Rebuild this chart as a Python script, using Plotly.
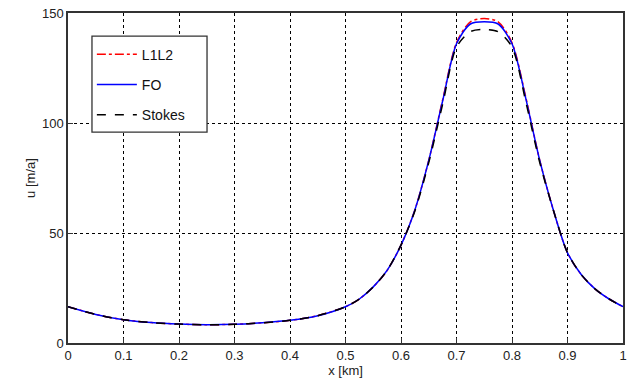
import plotly.graph_objects as go

x_km = [0, 0.05, 0.1, 0.15, 0.2, 0.25, 0.3, 0.35, 0.4, 0.45, 0.5, 0.525, 0.55, 0.575,
        0.6, 0.625, 0.65, 0.675, 0.7, 0.725, 0.75, 0.775, 0.8, 0.825, 0.85, 0.875,
        0.9, 0.925, 0.95, 0.975, 1.0]

u_fo = [16.5, 13.0, 10.6, 9.3, 8.6, 8.3, 8.5, 9.2, 10.3, 12.4, 16.5, 20.0, 25.5, 33.0,
        44.5, 60.5, 83.0, 110.0, 136.0, 145.0, 146.0, 145.0, 136.0, 111.0, 83.0, 60.0,
        41.0, 31.0, 24.5, 20.0, 16.5]

u_l1l2 = [16.5, 13.0, 10.6, 9.3, 8.6, 8.3, 8.5, 9.2, 10.3, 12.4, 16.5, 20.0, 25.5, 33.0,
          44.5, 60.5, 83.0, 110.5, 136.5, 146.0, 147.5, 146.0, 136.5, 111.5, 83.0, 60.0,
          41.0, 31.0, 24.5, 20.0, 16.5]

u_stokes = [16.5, 13.0, 10.6, 9.3, 8.6, 8.3, 8.5, 9.2, 10.3, 12.4, 16.5, 20.0, 25.5, 33.0,
            44.5, 60.0, 82.0, 108.5, 134.5, 141.5, 142.5, 141.5, 134.5, 109.5, 82.0, 60.0,
            41.0, 31.0, 24.5, 20.0, 16.5]

x_ticks = [0, 0.1, 0.2, 0.3, 0.4, 0.5, 0.6, 0.7, 0.8, 0.9, 1]
x_tick_text = ["0", "0.1", "0.2", "0.3", "0.4", "0.5", "0.6", "0.7", "0.8", "0.9", "1"]
y_ticks = [0, 50, 100, 150]

font_family = "Liberation Sans, Arial, Helvetica, sans-serif"

fig = go.Figure()
fig.add_trace(go.Scatter(x=x_km, y=u_l1l2, name="L1L2", mode="lines", legendgroup="a",
                         line=dict(color="#ff0000", width=1.5, dash="dashdot", shape="spline", smoothing=0.8)))
fig.add_trace(go.Scatter(x=x_km, y=u_fo, name="FO", mode="lines", legendgroup="b",
                         line=dict(color="#0000ff", width=1.5, shape="spline", smoothing=0.8)))
fig.add_trace(go.Scatter(x=x_km, y=u_stokes, name="Stokes", mode="lines", legendgroup="c",
                         line=dict(color="#000000", width=1.5, dash="dash", shape="spline", smoothing=0.8)))

axis_common = dict(
    showline=True, linecolor="#333333", linewidth=1.5, mirror=True,
    ticks="inside", ticklen=5, tickcolor="#333333", automargin=False,
    showgrid=True, gridcolor="#000000", gridwidth=1, griddash="dot",
    zeroline=False, tickfont=dict(size=13, color="#222222", family=font_family),
)

fig.update_xaxes(range=[0, 1], tickvals=x_ticks, ticktext=x_tick_text,
                 title=dict(text="x [km]", font=dict(size=13, color="#222222", family=font_family), standoff=2),
                 **axis_common)
fig.update_yaxes(range=[0, 150], tickvals=y_ticks,
                 title=dict(text="u [m/a]", font=dict(size=13, color="#222222", family=font_family), standoff=3),
                 **axis_common)

# legend frame (drawn as a shape so its width matches the original box)
fig.add_shape(type="rect", xref="paper", yref="paper",
              x0=0.0432, x1=0.2505, y0=0.639, y1=0.930,
              fillcolor="white", line=dict(color="#333333", width=1.3), layer="above")

fig.update_layout(
    width=628, height=383,
    margin=dict(l=68, r=5, t=13, b=40),
    paper_bgcolor="white", plot_bgcolor="white",
    showlegend=True,
    legend=dict(x=0.043, y=0.922, xanchor="left", yanchor="top",
                bgcolor="rgba(0,0,0,0)", borderwidth=0,
                font=dict(size=14, color="#111111", family=font_family),
                traceorder="grouped", tracegroupgap=9, itemwidth=40),
)

fig.write_html("out.html", config={"displayModeBar": False},
               post_script="document.body.style.margin='0';document.body.style.overflow='hidden';")
